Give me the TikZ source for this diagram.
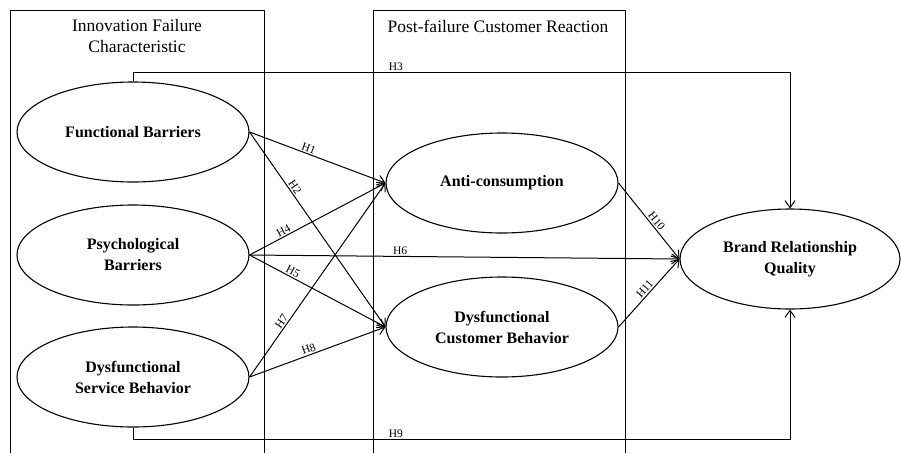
\documentclass[tikz,border=0pt]{standalone}
\usepackage{fontspec}
\setmainfont{Liberation Serif}
\usetikzlibrary{arrows.meta}
\usetikzlibrary{shapes.geometric}
\tikzset{construct/.style = {draw, ellipse, line width = 1.1pt, minimum width = 232pt,
                             minimum height = 100pt, inner sep = 0, align = center,
                             font = \fontsize{16}{21}\selectfont\bfseries}}
\tikzset{hyp/.style = {-{Straight Barb[length = 7pt, width = 10pt]}, line width = 1pt}}
\tikzset{hlab/.style = {font = \fontsize{11.5}{13}\selectfont, inner sep = 1.5pt}}
\tikzset{panel/.style = {line width = 1pt}}
\tikzset{title/.style = {align = center, font = \fontsize{17.5}{21}\selectfont}}

\begin{document}
\begin{tikzpicture}[x = 1pt, y = -1pt]
      \useasboundingbox (0, 0) rectangle (901, 453);

      \draw [panel] (10, 453) -- (10, 10) -- (264, 10) -- (264, 453);
      \draw [panel] (373, 453) -- (373, 10) -- (625, 10) -- (625, 453);
      \node [title] (leftttl) at (137, 36) {Innovation Failure\\Characteristic};
      \node [title] (midttl) at (498, 26) {Post-failure Customer Reaction};

      \node [construct] (fb) at (133, 132) {Functional Barriers};
      \node [construct] (pb) at (133, 255) {Psychological\\Barriers};
      \node [construct] (dsb) at (133, 377) {Dysfunctional\\Service Behavior};
      \node [construct] (ac) at (502, 183) {Anti-consumption};
      \node [construct] (dcb) at (502, 327) {Dysfunctional\\Customer Behavior};
      \node [construct, minimum width = 220pt] (brq) at (790, 259) {Brand Relationship\\Quality};

      \draw [hyp] (fb.east) -- node [hlab, pos = 0.42, sloped, above] {H1} (ac.west);
      \draw [hyp] (fb.east) -- node [hlab, pos = 0.3, sloped, above] {H2} (dcb.west);
      \draw [hyp] (pb.east) -- node [hlab, pos = 0.27, sloped, above] {H4} (ac.west);
      \draw [hyp] (pb.east) -- node [hlab, pos = 0.3, sloped, above] {H5} (dcb.west);
      \draw [hyp] (pb.east) -- node [hlab, pos = 0.35, sloped, above] {H6} (brq.west);
      \draw [hyp] (dsb.east) -- node [hlab, pos = 0.27, sloped, above] {H7} (ac.west);
      \draw [hyp] (dsb.east) -- node [hlab, pos = 0.45, sloped, above] {H8} (dcb.west);
      \draw [hyp] (ac.east) -- node [hlab, pos = 0.55, sloped, above] {H10} (brq.west);
      \draw [hyp] (dcb.east) -- node [hlab, pos = 0.5, sloped, above] {H11} (brq.west);

      \draw [hyp] (fb.north) -- ++(0, -9) -| node [hlab, pos = 0.2, above] {H3} (brq.north);
      \draw [hyp] (dsb.south) -- ++(0, 12) -| node [hlab, pos = 0.2, above] {H9} (brq.south);

    \end{tikzpicture}
\end{document}
